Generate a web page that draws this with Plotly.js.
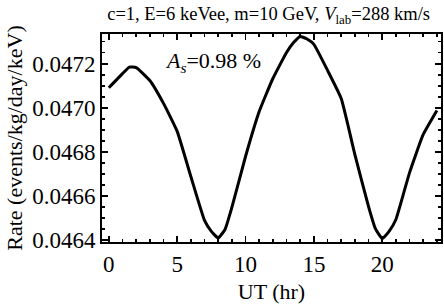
<!DOCTYPE html>
<html>
<head>
<meta charset="utf-8">
<script src="https://cdn.plot.ly/plotly-3.0.1.min.js"></script>
<style>html,body{margin:0;padding:0;background:#fff;}#chart{width:444px;height:307px;}</style>
</head>
<body>
<div id="chart"></div>
<script>
var hours = [0, 1, 1.5, 2, 3, 4, 5, 6, 7, 7.5, 8, 8.5, 9, 10, 11, 12, 13, 13.5, 14, 14.5, 15, 16, 17, 18, 19, 19.5, 20, 20.5, 21, 22, 23, 24];
var rate = [0.047091, 0.047155, 0.047185, 0.047182, 0.047124, 0.047020, 0.046893, 0.046688, 0.046489, 0.046439, 0.046409, 0.046448, 0.046548, 0.046779, 0.046983, 0.047133, 0.047251, 0.047295, 0.047324, 0.047312, 0.047288, 0.047170, 0.047042, 0.046788, 0.046552, 0.046452, 0.046407, 0.046439, 0.046493, 0.046706, 0.046879, 0.046988];
var xTicks = [0, 5, 10, 15, 20];
var yTicks = [0.0464, 0.0466, 0.0468, 0.0470, 0.0472];
var yTickLabels = ['0.0464', '0.0466', '0.0468', '0.0470', '0.0472'];
var chartTitle = 'c=1, E=6 keVee, m=10 GeV, <i>V</i><sub>lab</sub>=288 km/s';
var noteText = '<i>A</i><sub><i>s</i></sub>=0.98 %';

var serif = "Liberation Serif, Times New Roman, serif";
var trace = {
  x: hours, y: rate, type: 'scatter', mode: 'lines',
  line: {color: '#000', width: 3, shape: 'spline', smoothing: 0.4}
};
var axisCommon = {
  showline: true, linecolor: '#000', linewidth: 2, mirror: 'allticks',
  ticks: 'inside', ticklen: 6, tickwidth: 1.5, tickcolor: '#000',
  showgrid: false, zeroline: false,
  tickfont: {family: serif, size: 23, color: '#000'}
};
var layout = {
  width: 444, height: 307,
  margin: {l: 102, r: 3, t: 34, b: 65},
  paper_bgcolor: '#fff', plot_bgcolor: '#fff',
  showlegend: false,
  title: {text: chartTitle, font: {family: serif, size: 18.5, color: '#000'}, x: 0.605, xanchor: 'center', y: 0.955, yanchor: 'middle'},
  xaxis: Object.assign({}, axisCommon, {
    range: [-0.5, 24.3], tickvals: xTicks, ticktext: xTicks.map(String),
    minor: {dtick: 1, tick0: 0, ticks: 'inside', ticklen: 3, tickwidth: 1.5, tickcolor: '#000', showgrid: false},
    title: {text: 'UT (hr)', font: {family: serif, size: 22, color: '#000'}, standoff: 8}
  }),
  yaxis: Object.assign({}, axisCommon, {
    range: [0.046391, 0.047335], tickvals: yTicks, ticktext: yTickLabels,
    minor: {dtick: 0.00005, tick0: 0.0464, ticks: 'inside', ticklen: 3, tickwidth: 1.5, tickcolor: '#000', showgrid: false},
    title: {text: 'Rate (events/kg/day/keV)', font: {family: serif, size: 22, color: '#000'}, standoff: 3}
  }),
  annotations: [{
    x: 0.18, y: 0.865, xref: 'paper', yref: 'paper', xanchor: 'left', yanchor: 'middle',
    text: noteText, showarrow: false, font: {family: serif, size: 22, color: '#000'}
  }]
};
Plotly.newPlot('chart', [trace], layout, {displayModeBar: false, staticPlot: true});
</script>
</body>
</html>
